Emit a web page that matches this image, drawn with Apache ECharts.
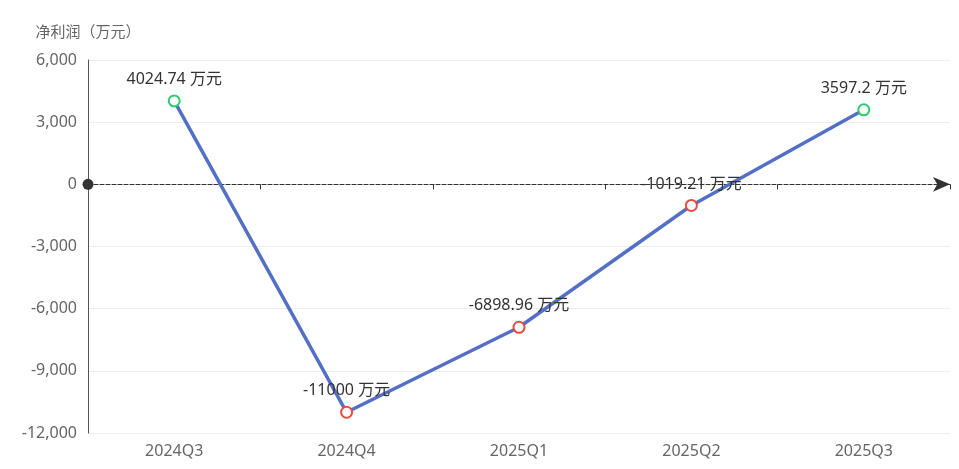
<!DOCTYPE html>
<html><head><meta charset="utf-8">
<script src="https://cdn.jsdelivr.net/npm/echarts@6/dist/echarts.min.js"></script>
<style>html,body{margin:0;padding:0;background:#fff}#c{width:959px;height:469px}</style>
</head><body><div id="c"></div>
<script>
const categories = ['2024Q3','2024Q4','2025Q1','2025Q2','2025Q3'];
const profit = [4024.74, -11000, -6898.96, -1019.21, 3597.2];
const yTicks = {min: -12000, max: 6000, interval: 3000};
const yName = '净利润（万元）';
const unit = '万元';

const chart = echarts.init(document.getElementById('c'));
const font = '"Noto Sans", "Noto Sans CJK SC", sans-serif';
chart.setOption({
  animation: false,
  textStyle: {fontFamily: font},
  grid: {left: 88, right: 9, top: 60, bottom: 36},
  xAxis: [{
    type: 'category', data: categories, boundaryGap: true,
    axisLine: {onZero: true, symbol: ['circle', 'arrow'], symbolSize: [11, 17],
      lineStyle: {color: '#333', type: 'dashed', width: 1}},
    axisTick: {show: true, length: 5, lineStyle: {color: '#333'}},
    axisLabel: {show: false}
  }, {
    type: 'category', data: categories, position: 'bottom', boundaryGap: true,
    axisLine: {show: false, onZero: false}, axisTick: {show: false},
    axisLabel: {color: '#666', fontSize: 16, margin: 10, fontFamily: font}
  }],
  yAxis: {
    type: 'value', min: yTicks.min, max: yTicks.max, interval: yTicks.interval,
    name: yName, nameGap: 20,
    nameTextStyle: {color: '#666', fontSize: 15, fontFamily: font},
    axisLine: {show: true, onZero: false, lineStyle: {color: '#555'}},
    axisTick: {show: false},
    axisLabel: {color: '#666', fontSize: 16, margin: 11, fontFamily: font,
      formatter: v => v.toLocaleString('en-US')},
    splitLine: {lineStyle: {color: '#eee'}}
  },
  series: [{
    type: 'line', xAxisIndex: 0,
    data: profit.map(v => ({value: v, itemStyle: {color: '#fff', borderColor: v >= 0 ? '#2ecc71' : '#e74c3c', borderWidth: 2}})),
    symbol: 'circle', symbolSize: 11,
    lineStyle: {color: '#5470c6', width: 3.5},
    label: {show: true, position: 'top', distance: 7, color: '#333', fontSize: 16, fontFamily: font,
      formatter: p => p.value + ' ' + unit}
  }]
});
</script></body></html>
